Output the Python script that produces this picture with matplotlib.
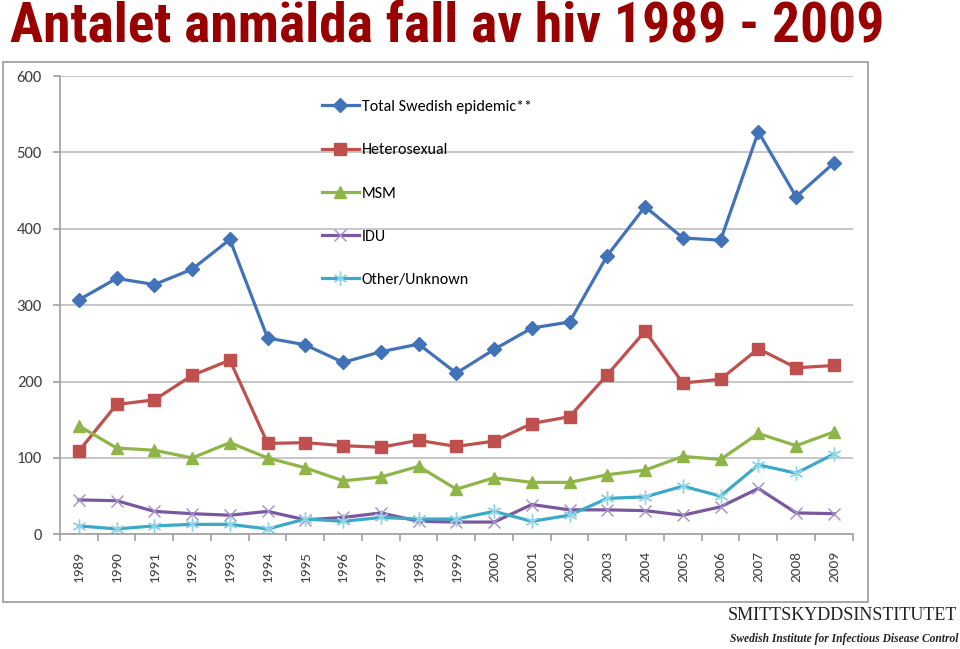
import numpy as np
import matplotlib
matplotlib.use('Agg')
from matplotlib import pyplot as plt
from matplotlib.patches import Rectangle

YEARS = [str(y) for y in range(1989, 2010)]
TOTAL = [307, 335, 327, 347, 386, 257, 248, 225, 239, 249, 211,
         242, 270, 278, 365, 429, 388, 385, 527, 442, 486]
HETERO = [109, 170, 176, 208, 228, 119, 120, 116, 114, 123, 115,
          122, 145, 154, 209, 266, 198, 203, 243, 218, 221]
MSM = [142, 113, 110, 100, 120, 100, 87, 70, 75, 89, 59,
       74, 68, 68, 78, 84, 102, 98, 132, 116, 134]
IDU = [45, 44, 30, 27, 25, 30, 19, 22, 28, 17, 16,
       16, 39, 32, 32, 31, 25, 36, 60, 28, 27]
OTHER = [11, 7, 11, 13, 13, 7, 20, 17, 22, 20, 20,
         30, 17, 25, 47, 49, 63, 50, 91, 80, 105]

SERIES = [
    ('Total Swedish epidemic**', TOTAL, dict(color='#4272B8', marker='D', ms=7)),
    ('Heterosexual', HETERO, dict(color='#C0504D', marker='s', ms=9)),
    ('MSM', MSM, dict(color='#8FB548', marker='^', ms=9)),
    ('IDU', IDU, dict(color='#7A58A0', marker='x', ms=9, mew=1.0, mec='#A58FC8')),
    ('Other/Unknown', OTHER, dict(color='#3AAAC8', marker=(6, 2, 0), ms=10, mew=1.0, mec='#8FD3E6')),
]
AXIS_FONT = 'Carlito'

fig = plt.figure(figsize=(9.6, 6.49), dpi=100)

# chart frame
fig.patches.append(Rectangle((3 / 960, 1 - 602 / 649), 865 / 960, 540 / 649,
                             transform=fig.transFigure, fill=False,
                             edgecolor='#9A9A9A', lw=1.2))

ax = fig.add_axes([60 / 960, 1 - 534.3 / 649, 792.7 / 960, 458.3 / 649])
x = np.arange(len(YEARS))
for label, vals, style in SERIES:
    ax.plot(x, vals, lw=2.3, label=label, **style)

ax.set_xlim(-0.5, len(YEARS) - 0.5)
ax.set_ylim(0, 600)
ax.set_yticks(range(0, 601, 100))
ax.yaxis.grid(True, color='#BDBDBD', lw=1.2)
ax.set_axisbelow(True)
for s in ['top', 'right']:
    ax.spines[s].set_visible(False)
for s in ['left', 'bottom']:
    ax.spines[s].set_color('#A0A0A0')
    ax.spines[s].set_linewidth(1.2)

ax.set_xticks(x)
ax.set_xticklabels(YEARS, rotation=90, fontsize=11, color='#404040', family=AXIS_FONT)
ax.set_xticks(np.arange(-0.5, len(YEARS)), minor=True)
ax.tick_params(axis='x', which='major', length=0, pad=12)
ax.tick_params(axis='x', which='minor', length=5, color='#A0A0A0', width=1.2)
ax.tick_params(axis='y', length=5, color='#A0A0A0', width=1.2, pad=8)
for t in ax.get_yticklabels():
    t.set_family(AXIS_FONT)
    t.set_fontsize(12)
    t.set_color('#404040')

ax.legend(loc='upper left', bbox_to_anchor=(0.3305, 0.948), frameon=False,
          borderaxespad=0, borderpad=0, labelspacing=1.82, handlelength=2.3,
          handletextpad=0.2, prop=dict(family=AXIS_FONT, size=11.5))

fig.text(10 / 960, 1 - 42 / 649, 'Antalet anmälda fall av hiv 1989 - 2009',
         fontsize=40, fontweight='bold', color='#990000',
         family=['Roboto Condensed', 'Liberation Sans'])

fig.text(957 / 960, 1 - 620 / 649, 'SMITTSKYDDSINSTITUTET', ha='right',
         fontsize=13, color='#222222', family='Liberation Serif')
fig.text(958 / 960, 1 - 642 / 649, 'Swedish Institute for Infectious Disease Control',
         ha='right', fontsize=8.3, style='italic', fontweight='bold', color='#222222',
         family='Liberation Serif')

fig.savefig('out.png', dpi=100)
